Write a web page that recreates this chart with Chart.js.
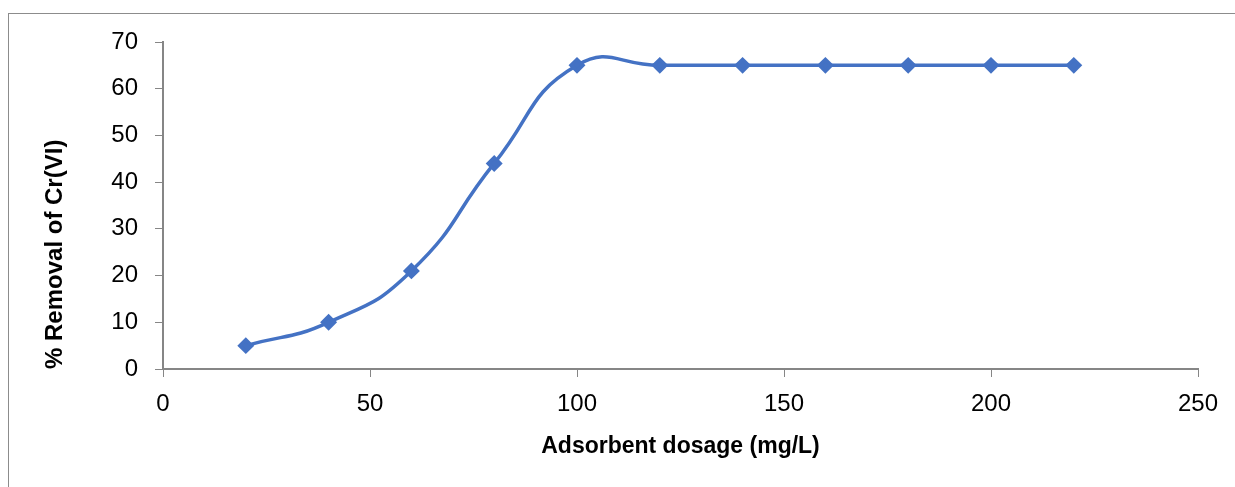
<!DOCTYPE html>
<html>
<head>
<meta charset="utf-8">
<script src="https://cdn.jsdelivr.net/npm/chart.js@4"></script>
<style>
  html,body{margin:0;padding:0;background:#fff;}
  #wrap{position:relative;width:1235px;height:487px;overflow:hidden;}
  #frame{position:absolute;left:8px;top:13px;width:1400px;height:600px;border-left:1px solid #8c8c8c;border-top:1px solid #8c8c8c;}
  canvas{position:absolute;left:0;top:0;}
</style>
</head>
<body>
<div id="wrap">
  <div id="frame"></div>
  <canvas id="c" width="1235" height="487"></canvas>
</div>
<script>
const dosage = [20, 40, 60, 80, 100, 120, 140, 160, 180, 200, 220];
const removal = [5, 10, 21, 44, 65, 65, 65, 65, 65, 65, 65];
const xTicks = [0, 50, 100, 150, 200, 250];
const yTicks = [0, 10, 20, 30, 40, 50, 60, 70];
const xTitle = 'Adsorbent dosage (mg/L)';
const yTitle = '% Removal of Cr(VI)';

const FONT = "'Liberation Sans', Arial, sans-serif";
const axisColor = '#868686';

new Chart(document.getElementById('c'), {
  type: 'line',
  data: {
    datasets: [{
      data: dosage.map((x, i) => ({x: x, y: removal[i]})),
      borderColor: '#4472C4',
      backgroundColor: '#4472C4',
      borderWidth: 3.5,
      tension: 0.5,
      pointStyle: 'rectRot',
      pointRadius: 6,
      pointHoverRadius: 6,
      fill: false
    }]
  },
  options: {
    responsive: false,
    animation: false,
    devicePixelRatio: 1,
    layout: {padding: {top: 42, right: 37, left: 0, bottom: 27}},
    plugins: {legend: {display: false}, tooltip: {enabled: false}},
    scales: {
      x: {
        type: 'linear',
        min: 0, max: 250,
        afterBuildTicks: s => { s.ticks = xTicks.map(v => ({value: v})); },
        afterFit: s => { s.height = 91; },
        border: {display: true, color: axisColor, width: 2},
        grid: {display: true, drawOnChartArea: false, drawTicks: true, tickLength: 8, color: axisColor, lineWidth: 1},
        ticks: {color: '#000', font: {family: FONT, size: 24}, padding: 13, maxRotation: 0},
        title: {display: true, text: xTitle, color: '#000', font: {family: FONT, size: 23, weight: 'bold'}, padding: {top: 0, bottom: 0}}
      },
      y: {
        type: 'linear',
        min: 0, max: 70,
        afterBuildTicks: s => { s.ticks = yTicks.map(v => ({value: v})); },
        afterFit: s => { s.width = 163; },
        border: {display: true, color: axisColor, width: 2},
        grid: {display: true, drawOnChartArea: false, drawTicks: true, tickLength: 8, color: axisColor, lineWidth: 1},
        ticks: {color: '#000', font: {family: FONT, size: 24}, padding: 17},
        title: {display: true, text: yTitle, align: 'start', color: '#000', font: {family: FONT, size: 24, weight: 'bold'}, padding: {top: 41, bottom: 0}}
      }
    }
  }
});
</script>
</body>
</html>
